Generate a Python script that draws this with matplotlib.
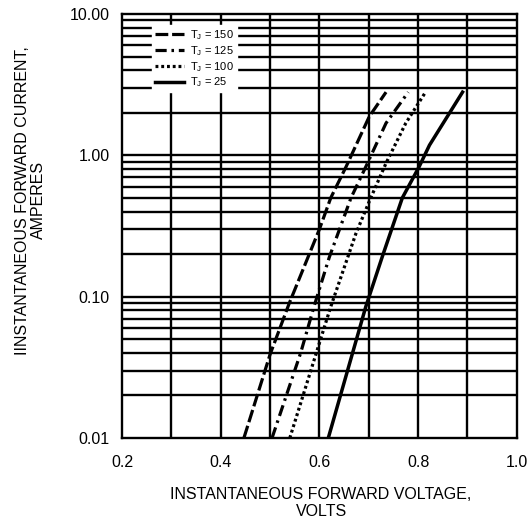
import matplotlib
matplotlib.use('Agg')
import matplotlib.pyplot as plt
import numpy as np

plt.rcParams['font.family'] = ['Liberation Sans', 'DejaVu Sans']

# forward voltage (V) vs forward current (A)
v_150 = [0.447, 0.500, 0.539, 0.600, 0.623, 0.654, 0.701, 0.735]
i_150 = [0.01, 0.039, 0.09, 0.30, 0.50, 0.83, 1.88, 2.8]

v_125 = [0.504, 0.562, 0.589, 0.620, 0.664, 0.694, 0.735, 0.780]
i_125 = [0.01, 0.04, 0.085, 0.19, 0.50, 0.83, 1.69, 2.8]

v_100 = [0.540, 0.600, 0.623, 0.674, 0.704, 0.735, 0.775, 0.815]
i_100 = [0.01, 0.047, 0.085, 0.28, 0.50, 0.88, 1.69, 2.8]

v_25 = [0.618, 0.694, 0.727, 0.768, 0.802, 0.823, 0.890]
i_25 = [0.01, 0.085, 0.19, 0.50, 0.83, 1.18, 2.8]

labels = [r'T$_\mathregular{J}$ = 150', r'T$_\mathregular{J}$ = 125',
          r'T$_\mathregular{J}$ = 100', r'T$_\mathregular{J}$ = 25']

x_ticks = [0.2, 0.4, 0.6, 0.8, 1.0]
x_ticklabels = ['0.2', '0.4', '0.6', '0.8', '1.0']
y_ticks = [0.01, 0.1, 1, 10]
y_ticklabels = ['0.01', '0.10', '1.00', '10.00']

fig = plt.figure(figsize=(5.29, 5.24), dpi=100)
ax = fig.add_axes([0.2306, 0.1641, 0.7464, 0.8092])

ax.set_yscale('log')
ax.set_xlim(0.2, 1.0)
ax.set_ylim(0.01, 10)

# grid: every 0.1 V, every 1-9 per decade
for xv in np.arange(0.3, 1.0, 0.1):
    ax.axvline(xv, color='black', lw=1.7, zorder=1)
for dec in [0.01, 0.1, 1]:
    for k in range(1, 10):
        if dec * k > 0.01:
            ax.axhline(dec * k, color='black', lw=1.7, zorder=1)

ax.plot(v_150, i_150, color='black', lw=2.3, linestyle=(0, (4, 1.2)), label=labels[0], zorder=3)
ax.plot(v_125, i_125, color='black', lw=2.3, linestyle=(0, (3.5, 1.5, 0.8, 1.5)), label=labels[1], zorder=3)
ax.plot(v_100, i_100, color='black', lw=2.3, linestyle=(0, (0.9, 0.9)), label=labels[2], zorder=3)
ax.plot(v_25, i_25, color='black', lw=2.5, linestyle='-', label=labels[3], zorder=3)

for s in ax.spines.values():
    s.set_linewidth(1.7)

ax.set_xticks(x_ticks)
ax.set_xticklabels(x_ticklabels)
ax.set_yticks(y_ticks)
ax.set_yticklabels(y_ticklabels)
ax.yaxis.set_minor_locator(matplotlib.ticker.NullLocator())
ax.tick_params(axis='both', length=0, labelsize=11.5)
ax.tick_params(axis='x', pad=12)
ax.tick_params(axis='y', pad=9)

fig.text(0.607, 0.040, 'INSTANTANEOUS FORWARD VOLTAGE,\nVOLTS', fontsize=11.5,
         ha='center', va='center', linespacing=1.15)
fig.text(0.057, 0.618, 'IINSTANTANEOUS FORWARD CURRENT,\nAMPERES', fontsize=11.5,
         ha='center', va='center', rotation=90, linespacing=1.1)

leg = ax.legend(loc='upper left', bbox_to_anchor=(0.062, 0.986), fontsize=8,
                frameon=True, fancybox=False, edgecolor='white', facecolor='white',
                framealpha=1, handlelength=2.6, labelspacing=0.18, borderpad=0.25,
                handletextpad=0.6)
leg.set_zorder(5)

plt.savefig('out.png', dpi=100)
plt.close()
